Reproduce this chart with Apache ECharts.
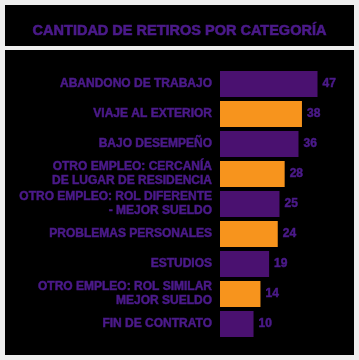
<!DOCTYPE html>
<html><head><meta charset="utf-8">
<script src="https://cdn.jsdelivr.net/npm/echarts@6/dist/echarts.min.js"></script>
<style>html,body{margin:0;padding:0;background:#eeeeee}#c{width:359px;height:360px}</style>
</head><body><div id="c"></div>
<script>
const titleText = 'CANTIDAD DE RETIROS POR CATEGORÍA';
const categories = [
  'ABANDONO DE TRABAJO',
  'VIAJE AL EXTERIOR',
  'BAJO DESEMPEÑO',
  'OTRO EMPLEO: CERCANÍA\nDE LUGAR DE RESIDENCIA',
  'OTRO EMPLEO: ROL DIFERENTE\n- MEJOR SUELDO',
  'PROBLEMAS PERSONALES',
  'ESTUDIOS',
  'OTRO EMPLEO: ROL SIMILAR\nMEJOR SUELDO',
  'FIN DE CONTRATO'
];
const values = [47, 38, 36, 28, 25, 24, 19, 14, 10];
const barColors = ['#4a1170', '#f7941d'];
const textColor = '#4b1a8a';
const font = '"Liberation Sans", Arial, sans-serif';
const xMin = -9.4, xMax = 50;

const chart = echarts.init(document.getElementById('c'), null, {renderer: 'canvas'});
chart.setOption({
  backgroundColor: '#eeeeee',
  animation: false,
  graphic: [
    {type: 'rect', shape: {x: 5, y: 5, width: 349, height: 41}, style: {fill: '#000'}, z: -10},
    {type: 'rect', shape: {x: 5, y: 50, width: 349, height: 305}, style: {fill: '#000'}, z: -10}
  ],
  title: {
    text: titleText, left: 'center', top: 18,
    textStyle: {color: textColor, fontSize: 14.5, fontWeight: 'bold', fontFamily: font,
      textBorderColor: textColor, textBorderWidth: 0.6}
  },
  grid: {left: 220, top: 69, height: 270, width: 102.7},
  xAxis: {type: 'value', min: xMin, max: xMax, show: false},
  yAxis: {
    type: 'category', data: categories, inverse: true,
    axisLine: {show: false}, axisTick: {show: false},
    axisLabel: {color: textColor, fontSize: 12, fontWeight: 'bold', fontFamily: font, margin: 8, lineHeight: 14, align: 'right',
      textBorderColor: textColor, textBorderWidth: 0.5}
  },
  series: [{
    type: 'custom',
    data: values.map((v, i) => [v, i]),
    encode: {x: 0, y: 1},
    renderItem: function (params, api) {
      const v = api.value(0), idx = api.value(1);
      const s = api.coord([xMin, idx]);
      const e = api.coord([v, idx]);
      const h = api.size([0, 1])[1] * 0.87;
      return {type: 'group', children: [
        {type: 'rect', shape: {x: s[0], y: s[1] - h / 2, width: e[0] - s[0], height: h},
          style: {fill: barColors[params.dataIndex % 2]}},
        {type: 'text', x: e[0] + 5, y: e[1],
          style: {text: String(v), fill: textColor, font: 'bold 12px ' + font, verticalAlign: 'middle', align: 'left',
            stroke: textColor, lineWidth: 0.5}}
      ]};
    }
  }]
});
</script></body></html>
